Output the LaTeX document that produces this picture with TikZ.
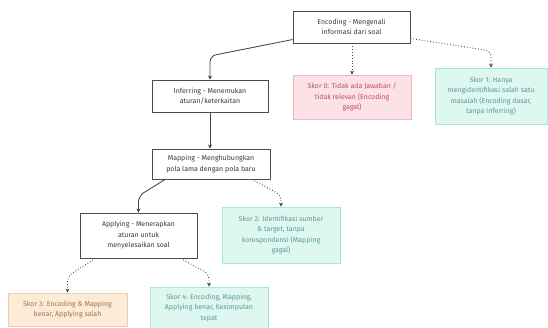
\documentclass[tikz,border=0pt]{standalone}
\usepackage{fontspec}
\setmainfont{Fira Sans}
\usetikzlibrary{arrows.meta,calc}
\definecolor{mainborder}{HTML}{4A4A58}
\definecolor{maintext}{HTML}{3A3A3A}
\definecolor{pinkfill}{HTML}{FCE1E7}
\definecolor{pinkdraw}{HTML}{F4B6C3}
\definecolor{pinktext}{HTML}{B8506A}
\definecolor{mintfill}{HTML}{DEF7F1}
\definecolor{mintdraw}{HTML}{A5E8D8}
\definecolor{minttext}{HTML}{5A9C8E}
\definecolor{peachfill}{HTML}{FDEBD9}
\definecolor{peachdraw}{HTML}{F2CFA3}
\definecolor{peachtext}{HTML}{A3713F}
\definecolor{linecol}{HTML}{444444}
\tikzset{
  base/.style={rectangle, align=center, inner sep=0pt, font=\fontsize{7}{10.5}\selectfont},
  mainbox/.style={base, draw=mainborder, fill=white, line width=0.95pt, text=maintext},
  skor0/.style={base, draw=pinkdraw, fill=pinkfill, line width=0.8pt, text=pinktext},
  skormint/.style={base, draw=mintdraw, fill=mintfill, line width=0.8pt, text=minttext},
  skorpeach/.style={base, draw=peachdraw, fill=peachfill, line width=0.8pt, text=peachtext},
  solidarrow/.style={draw=linecol, line width=0.85pt, rounded corners=6pt, -{Stealth[length=4pt,width=4pt]}},
  dotarrow/.style={draw=linecol, line width=0.85pt, dotted, rounded corners=6pt, -{Stealth[length=4pt,width=4pt]}}
}
\begin{document}
\begin{tikzpicture}[x=1pt,y=-1pt]
\useasboundingbox (0,0) rectangle (548,327);
\node[mainbox, minimum width=117pt, minimum height=32pt] (enc) at (351.5,27) {Encoding - Mengenali\\informasi dari soal};
\node[skor0, minimum width=118pt, minimum height=44pt] (s0) at (352,97) {Skor 0: Tidak ada Jawaban /\\tidak relevan (Encoding\\gagal)};
\node[skormint, minimum width=112pt, minimum height=56pt] (s1) at (491,96) {Skor 1: Hanya\\mengidentifikasi salah satu\\masalah (Encoding dasar,\\tanpa Inferring)};
\node[mainbox, minimum width=116pt, minimum height=32pt] (inf) at (210,96) {Inferring - Menemukan\\aturan/keterkaitan};
\node[mainbox, minimum width=118pt, minimum height=30pt] (map) at (211,164) {Mapping - Menghubungkan\\pola lama dengan pola baru};
\node[mainbox, minimum width=117pt, minimum height=45pt] (app) at (138.5,235.5) {Applying - Menerapkan\\aturan untuk\\menyelesaikan soal};
\node[skormint, minimum width=118pt, minimum height=56pt] (s2) at (281,235) {Skor 2: Identifikasi sumber\\\& target, tanpa\\korespondensi (Mapping\\gagal)};
\node[skorpeach, minimum width=119pt, minimum height=33pt] (s3) at (67.5,309.5) {Skor 3: Encoding \& Mapping\\benar, Applying salah};
\node[skormint, minimum width=118pt, minimum height=42pt] (s4) at (209,308) {Skor 4: Encoding, Mapping,\\Applying benar, Kesimpulan\\tepat};

\coordinate (c1) at (210,56);
\coordinate (c2) at (491,51);
\coordinate (c3) at (138.5,196);
\coordinate (c4) at (281,195);
\coordinate (c5) at (67.5,276);
\coordinate (c6) at (209,274);

\path[solidarrow] (enc.192) -- (c1) -- (inf.north);
\path[dotarrow] (enc.south -| s0.north) -- (s0.north);
\path[dotarrow] (enc.349) -- (c2) -- (s1.north);
\path[solidarrow] (inf.south) -- (inf.south |- map.north);
\path[solidarrow] ([xshift=-46pt]map.south) -- (c3) -- (app.north);
\path[dotarrow] ([xshift=41pt]map.south) -- (c4) -- (s2.north);
\path[dotarrow] ([xshift=-43pt]app.south) -- (c5) -- (s3.north);
\path[dotarrow] ([xshift=42pt]app.south) -- (c6) -- (s4.north);
\end{tikzpicture}
\end{document}
